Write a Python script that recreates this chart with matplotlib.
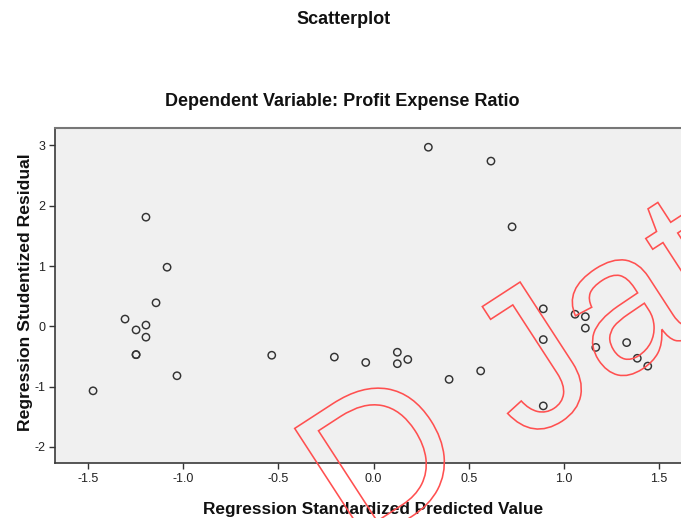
import numpy as np
import matplotlib
matplotlib.use("Agg")
import matplotlib.pyplot as plt
from matplotlib.textpath import TextPath
from matplotlib.font_manager import FontProperties
from matplotlib.patches import PathPatch
from matplotlib.transforms import Affine2D

plt.rcParams["font.family"] = ["Liberation Sans", "DejaVu Sans"]
plt.rcParams["axes.unicode_minus"] = False

# Regression diagnostics: standardized predicted value vs studentized residual
pred_std = [-1.474, -1.306, -1.248, -1.196, -1.196, -1.248, -1.248, -1.196,
            -1.085, -1.143, -1.033, -0.535, -0.206, -0.041, 0.288, 0.617,
            0.728, 0.125, 0.125, 0.180, 0.397, 0.563, 0.892, 0.892, 0.892,
            1.059, 1.113, 1.113, 1.168, 1.330, 1.386, 1.441]
resid_stud = [-1.07, 0.12, -0.06, 0.02, -0.18, -0.47, -0.47, 1.81,
              0.98, 0.39, -0.82, -0.48, -0.51, -0.60, 2.97, 2.74,
              1.65, -0.43, -0.62, -0.55, -0.88, -0.74, 0.29, -0.22, -1.32,
              0.20, 0.16, -0.03, -0.35, -0.27, -0.53, -0.66]

x_ticks = [-1.5, -1.0, -0.5, 0.0, 0.5, 1.0, 1.5]
y_ticks = [-2, -1, 0, 1, 2, 3]

W, H = 681, 518
fig = plt.figure(figsize=(W / 100, H / 100), dpi=100)
fig.patch.set_facecolor("white")

ax = fig.add_axes([55 / W, (H - 463) / H, (690 - 55) / W, (463 - 128.3) / H])
ax.set_facecolor("#f0f0f0")
ax.scatter(pred_std, resid_stud, s=28, facecolors="none",
           edgecolors="#333333", linewidths=1.05, zorder=3)

ax.set_xlim(-1.674, 1.663)
ax.set_ylim(-2.267, 3.284)
ax.set_xticks(x_ticks)
ax.set_xticklabels([f"{v:.1f}" for v in x_ticks])
ax.set_yticks(y_ticks)
ax.set_yticklabels([str(v) for v in y_ticks])
ax.tick_params(axis="both", direction="out", length=4.5, width=1.0,
               color="#333333", labelsize=9, labelcolor="#222222", pad=2.5)

for side in ("left", "bottom"):
    ax.spines[side].set_color("#3a3a3a")
    ax.spines[side].set_linewidth(1.2)
ax.spines["top"].set_color("#777777")
ax.spines["top"].set_linewidth(1.5)
ax.spines["right"].set_color("#777777")

fig.text(344 / W, 1 - 24.3 / H, "Scatterplot", ha="center", va="baseline",
         fontsize=13, fontweight="bold", color="#111111")
fig.text(342 / W, 1 - 106 / H, "Dependent Variable: Profit Expense Ratio",
         ha="center", va="baseline", fontsize=13, fontweight="bold",
         color="#111111")
fig.text(373.5 / W, 1 - 514 / H, "Regression Standardized Predicted Value",
         ha="center", va="baseline", fontsize=12.4, fontweight="bold",
         color="#111111")
fig.text(26 / W, 1 - 292 / H, "Regression Studentized Residual",
         ha="center", va="center", rotation=90, fontsize=12.6,
         fontweight="bold", color="#111111")

# Outlined red watermark lettering, anchored on the top of the "J" stem
wm_prop = FontProperties(family="Liberation Sans")
wm_size = 200
wm_text = "D Jat"
wm_path = TextPath((0, 0), wm_text, size=wm_size, prop=wm_prop)
n_before = len(TextPath((0, 0), "D ", size=wm_size, prop=wm_prop).vertices)
j_verts = TextPath((0, 0), "D J", size=wm_size, prop=wm_prop).vertices[n_before:]
j_top = j_verts[:, 1].max()
top_edge = j_verts[np.abs(j_verts[:, 1] - j_top) < 1e-3]
j_cx = 0.5 * (top_edge[:, 0].min() + top_edge[:, 0].max())
wm_trans = (Affine2D().translate(-j_cx, -j_top).rotate_deg(33)
            .translate(501.2, H - 294.3))
fig.add_artist(PathPatch(wm_path, transform=wm_trans, facecolor="none",
                         edgecolor="#ff5050", linewidth=1.15, zorder=5))

fig.savefig("out.png", dpi=100, facecolor="white")
